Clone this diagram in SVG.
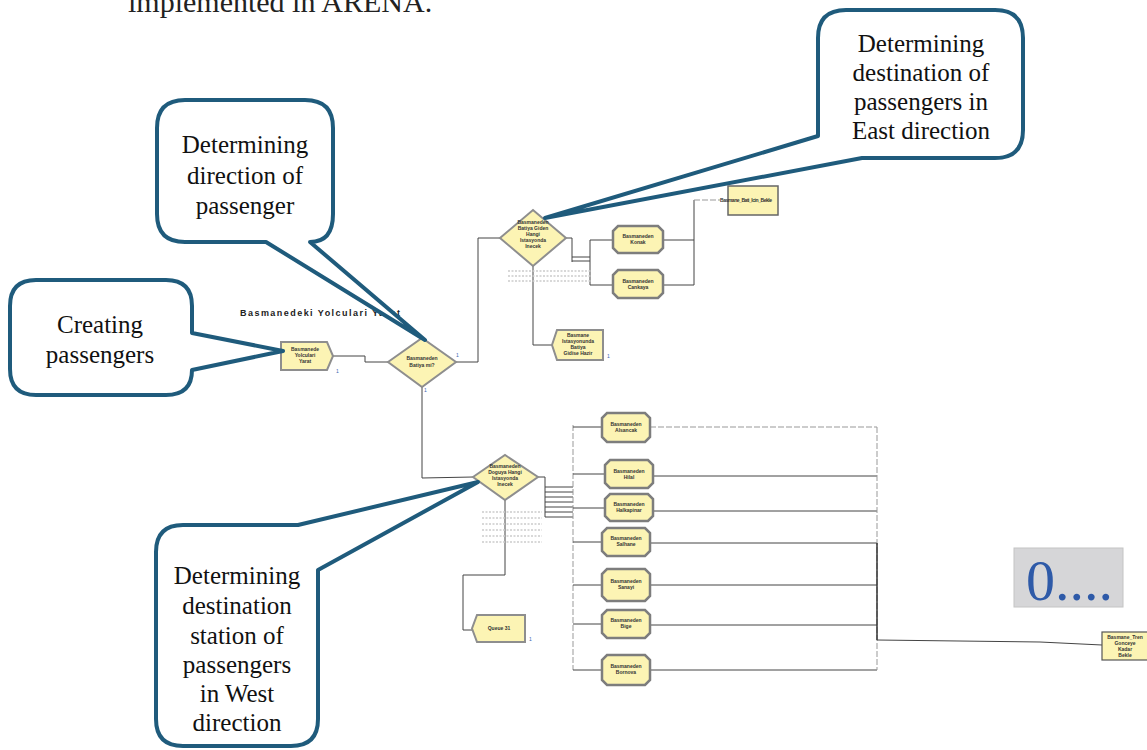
<svg xmlns="http://www.w3.org/2000/svg" width="1147" height="750" viewBox="0 0 1147 750">
<style>
.callout{fill:#fff;stroke:#1f5b7c;stroke-width:4;stroke-linejoin:round}
.ct{font-family:"Liberation Serif",serif;font-size:25px;fill:#111;text-anchor:middle}
.node{fill:#fcf4b4;stroke:#8e8e8e;stroke-width:2}
.proc{fill:#fcf4b4;stroke:#7d7d7d;stroke-width:2.5}
.nt{font-family:"Liberation Sans",Arial,sans-serif;font-size:5px;font-weight:bold;fill:#333;text-anchor:middle}
.one{font-family:"Liberation Sans",Arial,sans-serif;font-size:5px;fill:#3a6ab0}
.ln{fill:none;stroke:#444;stroke-width:1}
.lnl{fill:none;stroke:#999;stroke-width:1;stroke-dasharray:6 2}
.faint{fill:none;stroke:#ccc;stroke-width:1.5;stroke-dasharray:2 1.5}
</style>
<text x="128" y="12" style="font-family:'Liberation Serif',serif;font-size:30px;fill:#222">implemented in ARENA.</text>

<g id="connectors">
<polyline class="ln" points="333,356 365,356 365,362 388,362"/>
<polyline class="ln" points="456,362 478,362 478,238 500,238"/>
<polyline class="ln" points="422,387 422,478 473,477"/>
<polyline class="ln" points="566,238 572,238 572,262"/>
<line class="ln" x1="572" y1="257" x2="590" y2="257"/>
<line class="ln" x1="572" y1="261" x2="590" y2="261"/>
<polyline class="ln" points="613,240 590,240 590,285 613,285"/>
<polyline class="ln" points="663,240 694,240"/>
<polyline class="ln" points="663,285 694,285 694,200"/>
<line class="lnl" x1="694" y1="200" x2="720" y2="200"/>
<polyline class="ln" points="533,266 533,345 552,345"/>
<polyline class="ln" points="538,477 545,477 545,517"/>
<line class="ln" x1="545" y1="487" x2="573" y2="487"/>
<line class="ln" x1="545" y1="492" x2="573" y2="492"/>
<line class="ln" x1="545" y1="497" x2="573" y2="497"/>
<line class="ln" x1="545" y1="502" x2="573" y2="502"/>
<line class="ln" x1="545" y1="507" x2="573" y2="507"/>
<line class="ln" x1="545" y1="512" x2="573" y2="512"/>
<line class="ln" x1="545" y1="517" x2="573" y2="517"/>
<line class="lnl" x1="573" y1="425" x2="573" y2="670"/>
<line class="ln" x1="573" y1="427" x2="602" y2="427"/>
<line class="ln" x1="573" y1="474" x2="605" y2="474"/>
<line class="ln" x1="573" y1="508" x2="605" y2="508"/>
<line class="ln" x1="573" y1="542" x2="602" y2="542"/>
<line class="ln" x1="573" y1="585" x2="602" y2="585"/>
<line class="ln" x1="573" y1="624" x2="602" y2="624"/>
<line class="ln" x1="573" y1="670" x2="602" y2="670"/>
<line class="lnl" x1="650" y1="427" x2="877" y2="427"/>
<line class="ln" x1="653" y1="476" x2="877" y2="476"/>
<line class="ln" x1="653" y1="511" x2="877" y2="511"/>
<line class="ln" x1="650" y1="543" x2="877" y2="543"/>
<line class="ln" x1="650" y1="585" x2="877" y2="585"/>
<line class="ln" x1="650" y1="625" x2="877" y2="625"/>
<line class="ln" x1="650" y1="670" x2="877" y2="670"/>
<line class="lnl" x1="877" y1="427" x2="877" y2="670"/>
<line x1="877" y1="543" x2="877" y2="640" style="stroke:#333;stroke-width:1.5"/>
<polyline class="ln" points="877,640 1040,642 1102,645"/>
<polyline class="ln" points="505,500 505,575 463,575 463,630 472,630"/>
</g>

<g id="faint-labels">
<line class="faint" x1="508" y1="271" x2="592" y2="271"/>
<line class="faint" x1="508" y1="276" x2="592" y2="276"/>
<line class="faint" x1="508" y1="281" x2="592" y2="281"/>
<line class="faint" x1="482" y1="512" x2="542" y2="512"/>
<line class="faint" x1="482" y1="518" x2="542" y2="518"/>
<line class="faint" x1="482" y1="524" x2="542" y2="524"/>
<line class="faint" x1="482" y1="530" x2="542" y2="530"/>
<line class="faint" x1="482" y1="536" x2="542" y2="536"/>
<line class="faint" x1="482" y1="542" x2="542" y2="542"/>
</g>

<text x="240" y="316" textLength="160" style="font-family:'Liberation Sans',Arial,sans-serif;font-size:9px;font-weight:bold;fill:#222">Basmanedeki Yolculari Yarat</text>

<g id="create">
<path class="node" d="M281,342 H327 L333,356 L327,370 H281 Z"/>
<text class="nt" x="305" y="351">Basmanede</text>
<text class="nt" x="305" y="357">Yolculari</text>
<text class="nt" x="305" y="363">Yarat</text>
<text class="one" x="336" y="373">1</text>
</g>

<g id="decision-main">
<path class="node" d="M388,362 L422,338 L456,362 L422,387 Z"/>
<text class="nt" x="422" y="360">Basmaneden</text>
<text class="nt" x="422" y="367">Batiya mi?</text>
<text class="one" x="456" y="357">1</text>
<text class="one" x="424" y="392">1</text>
</g>

<g id="decision-east">
<path class="node" d="M500,238 L533,210 L566,238 L533,266 Z"/>
<text class="nt" x="533" y="224">Basmaneden</text>
<text class="nt" x="533" y="230">Batiya Giden</text>
<text class="nt" x="533" y="236">Hangi</text>
<text class="nt" x="533" y="242">Istasyonda</text>
<text class="nt" x="533" y="248">Inecek</text>
</g>

<g id="proc-konak">
<polygon class="proc" points="618,226 658,226 663,231 663,248 658,253 618,253 613,248 613,231"/>
<text class="nt" x="638" y="238">Basmaneden</text>
<text class="nt" x="638" y="244">Konak</text>
</g>
<g id="proc-cankaya">
<polygon class="proc" points="618,270 658,270 663,275 663,293 658,298 618,298 613,293 613,275"/>
<text class="nt" x="638" y="283">Basmaneden</text>
<text class="nt" x="638" y="289">Cankaya</text>
</g>

<g id="wait-east">
<rect class="node" x="728" y="186" width="50" height="29" style="stroke:#666;stroke-width:1.5"/>
<text x="720" y="202" textLength="52" style="font-family:'Liberation Sans',Arial,sans-serif;font-size:5px;font-weight:bold;fill:#333">Basmane_Bati_Icin_Bekle</text>
</g>

<g id="dispose-east">
<path class="node" d="M557,330 H603 V360 H557 L552,345 Z"/>
<text class="nt" x="578" y="337">Basmane</text>
<text class="nt" x="578" y="343">Istasyonunda</text>
<text class="nt" x="578" y="349">Batiya</text>
<text class="nt" x="578" y="355">Gidise Hazir</text>
<text class="one" x="607" y="358">1</text>
</g>

<g id="decision-west">
<path class="node" d="M473,477 L505,455 L538,477 L505,500 Z"/>
<text class="nt" x="505" y="468">Basmaneden</text>
<text class="nt" x="505" y="474">Doguya Hangi</text>
<text class="nt" x="505" y="480">Istasyonda</text>
<text class="nt" x="505" y="486">Inecek</text>
</g>

<g id="proc-w1">
<polygon class="proc" points="607,413 645,413 650,418 650,437 645,442 607,442 602,437 602,418"/>
<text class="nt" x="626" y="426">Basmaneden</text>
<text class="nt" x="626" y="432">Alsancak</text>
</g>
<g id="proc-w2">
<polygon class="proc" points="610,460 648,460 653,465 653,483 648,488 610,488 605,483 605,465"/>
<text class="nt" x="629" y="473">Basmaneden</text>
<text class="nt" x="629" y="479">Hilal</text>
</g>
<g id="proc-w3">
<polygon class="proc" points="610,494 648,494 653,499 653,516 648,521 610,521 605,516 605,499"/>
<text class="nt" x="629" y="506">Basmaneden</text>
<text class="nt" x="629" y="512">Halkapinar</text>
</g>
<g id="proc-w4">
<polygon class="proc" points="607,528 645,528 650,533 650,551 645,556 607,556 602,551 602,533"/>
<text class="nt" x="626" y="540">Basmaneden</text>
<text class="nt" x="626" y="546">Salhane</text>
</g>
<g id="proc-w5">
<polygon class="proc" points="607,569 645,569 650,574 650,596 645,601 607,601 602,596 602,574"/>
<text class="nt" x="626" y="583">Basmaneden</text>
<text class="nt" x="626" y="589">Sanayi</text>
</g>
<g id="proc-w6">
<polygon class="proc" points="607,610 645,610 650,615 650,633 645,638 607,638 602,633 602,615"/>
<text class="nt" x="626" y="622">Basmaneden</text>
<text class="nt" x="626" y="628">Bige</text>
</g>
<g id="proc-w7">
<polygon class="proc" points="607,655 645,655 650,660 650,680 645,685 607,685 602,680 602,660"/>
<text class="nt" x="626" y="668">Basmaneden</text>
<text class="nt" x="626" y="674">Bornova</text>
</g>

<g id="queue31">
<path class="node" d="M477,615 H525 V642 H477 L472,628.5 Z"/>
<text class="nt" x="499" y="630">Queue 31</text>
<text class="one" x="529" y="641">1</text>
</g>

<g id="wait-west">
<rect class="node" x="1102" y="632" width="48" height="28" style="stroke:#555;stroke-width:1.2"/>
<text class="nt" x="1125" y="639">Basmane_Tren</text>
<text class="nt" x="1125" y="645">Gonceye</text>
<text class="nt" x="1125" y="651">Kadar</text>
<text class="nt" x="1125" y="657">Bekle</text>
</g>

<g id="zero-box">
<rect x="1014" y="548" width="109" height="59" style="fill:#d6d6d8;stroke:#c4c4c4;stroke-width:1"/>
<text x="1026" y="600" style="font-family:'Liberation Serif',serif;font-size:58px;fill:#2e5aa8">0....</text>
</g>

<g id="callout-direction">
<path class="callout" d="M185,100 H305 Q333,100 333,128 V214 Q333,242 310,242 L425,340 L266,242 H185 Q157,242 157,214 V128 Q157,100 185,100 Z"/>
<text class="ct" x="245" y="153">Determining</text>
<text class="ct" x="245" y="184">direction of</text>
<text class="ct" x="245" y="214">passenger</text>
</g>

<g id="callout-creating">
<path class="callout" d="M36,280 H166 Q192,280 192,306 V333 L283,351 L192,370 Q192,395 166,395 H36 Q10,395 10,369 V306 Q10,280 36,280 Z"/>
<text class="ct" x="100" y="333">Creating</text>
<text class="ct" x="100" y="363">passengers</text>
</g>

<g id="callout-east">
<path class="callout" d="M846,10 H995 Q1023,10 1023,38 V130 Q1023,158 995,158 H862 L545,218 L818,136 V38 Q818,10 846,10 Z"/>
<text class="ct" x="921" y="52">Determining</text>
<text class="ct" x="921" y="81">destination of</text>
<text class="ct" x="921" y="110">passengers in</text>
<text class="ct" x="921" y="139">East direction</text>
</g>

<g id="callout-west">
<path class="callout" d="M183,525 H298 L478,482 L318,570 V719 Q318,746 291,746 H183 Q156,746 156,719 V552 Q156,525 183,525 Z"/>
<text class="ct" x="237" y="584">Determining</text>
<text class="ct" x="237" y="614">destination</text>
<text class="ct" x="237" y="644">station of</text>
<text class="ct" x="237" y="673">passengers</text>
<text class="ct" x="237" y="702">in West</text>
<text class="ct" x="237" y="731">direction</text>
</g>
</svg>
